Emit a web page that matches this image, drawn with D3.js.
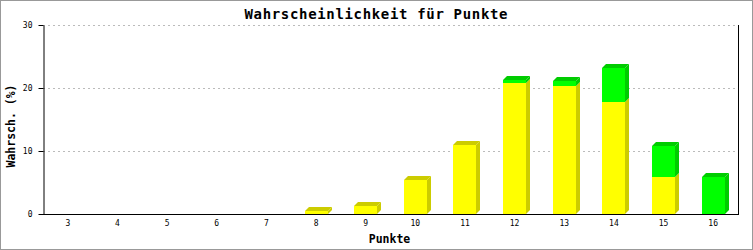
<!DOCTYPE html>
<html>
<head>
<meta charset="utf-8">
<script src="https://cdn.jsdelivr.net/npm/d3@7"></script>
<style>
  body { margin: 0; background: #fff; }
  text { font-family: 'DejaVu Sans Mono', monospace; }
</style>
</head>
<body>
<div id="chart"></div>
<script>
// points 3..16, two stacked series (yellow below, green on top)
const punkte = [3, 4, 5, 6, 7, 8, 9, 10, 11, 12, 13, 14, 15, 16];
const gelb = [0, 0, 0, 0, 0, 0.46, 1.32, 5.45, 10.95, 20.8, 20.3, 17.8, 5.8, 0];
const gruen = [0, 0, 0, 0, 0, 0, 0, 0, 0, 0.4, 0.8, 5.4, 5.0, 5.9];
const yTicks = [0, 10, 20, 30];

const W = 753, H = 250;
const margin = { top: 25, right: 15, bottom: 36, left: 43 };
const DEPTH = 4;
const BAR_W = 23;

const series = [
  { key: 'gelb', values: gelb, front: '#ffff00', dark: '#cccc00' },
  { key: 'gruen', values: gruen, front: '#00ff00', dark: '#00cc00' },
];

const svg = d3.select('#chart').append('svg')
  .attr('width', W)
  .attr('height', H);

svg.append('rect')
  .attr('x', 0.5).attr('y', 0.5)
  .attr('width', W - 1).attr('height', H - 1)
  .attr('fill', '#fff')
  .attr('stroke', '#999')
  .attr('stroke-width', 1);

const x = d3.scaleBand()
  .domain(punkte)
  .range([margin.left, W - margin.right])
  .padding(0);

const y = d3.scaleLinear()
  .domain([0, 30])
  .range([H - margin.bottom, margin.top]);

// grid lines
svg.append('g')
  .selectAll('line')
  .data(yTicks.filter(d => d > 0))
  .enter()
  .append('line')
  .attr('x1', margin.left)
  .attr('x2', W - margin.right)
  .attr('y1', d => Math.round(y(d)) + 0.5)
  .attr('y2', d => Math.round(y(d)) + 0.5)
  .attr('stroke', '#bbb')
  .attr('stroke-dasharray', '2,3');

// stacked 3D bars
const bars = svg.append('g');
punkte.forEach((p, i) => {
  const x0 = Math.round(x(p) + x.bandwidth() / 2 - BAR_W / 2);
  let base = 0;
  const segs = [];
  series.forEach(s => {
    const v = s.values[i];
    if (v > 0) segs.push({ s, lo: base, hi: base + v });
    base += v;
  });
  segs.forEach((seg, k) => {
    const yt = Math.round(y(seg.hi));
    const yb = Math.round(y(seg.lo));
    // side face
    bars.append('polygon')
      .attr('points', [
        [x0 + BAR_W, yt], [x0 + BAR_W + DEPTH, yt - DEPTH],
        [x0 + BAR_W + DEPTH, yb - DEPTH], [x0 + BAR_W, yb]
      ].join(' '))
      .attr('fill', seg.s.dark);
    // top face for topmost segment
    if (k === segs.length - 1) {
      bars.append('polygon')
        .attr('points', [
          [x0, yt], [x0 + DEPTH, yt - DEPTH],
          [x0 + BAR_W + DEPTH, yt - DEPTH], [x0 + BAR_W, yt]
        ].join(' '))
        .attr('fill', seg.s.dark);
    }
    bars.append('rect')
      .attr('x', x0)
      .attr('y', yt)
      .attr('width', BAR_W)
      .attr('height', yb - yt)
      .attr('fill', seg.s.front);
  });
});

// axes
const yAxis = svg.append('g')
  .attr('transform', `translate(${margin.left + 0.5},0)`)
  .call(d3.axisLeft(y).tickValues(yTicks).tickSize(5).tickSizeOuter(0).tickPadding(6));

const xAxis = svg.append('g')
  .attr('transform', `translate(0,${H - margin.bottom + 0.5})`)
  .call(d3.axisBottom(x).tickSize(0).tickSizeOuter(0).tickPadding(6));

[yAxis, xAxis].forEach(a => {
  a.selectAll('path, line').attr('stroke', '#000').attr('stroke-width', 1);
  a.selectAll('text')
    .attr('fill', '#000')
    .style('font-family', "'DejaVu Sans Mono', monospace")
    .style('font-size', '8px');
});
xAxis.select('.domain').attr('d', `M${margin.left},0H${W - margin.right}`);

// right frame line of plot
svg.append('line')
  .attr('x1', W - margin.right + 0.5)
  .attr('x2', W - margin.right + 0.5)
  .attr('y1', margin.top)
  .attr('y2', H - margin.bottom + 1)
  .attr('stroke', '#000');

// title and axis titles
svg.append('text')
  .attr('x', 376)
  .attr('y', 19)
  .attr('text-anchor', 'middle')
  .attr('font-weight', 'bold')
  .attr('font-size', '14px')
  .attr('textLength', 263)
  .text('Wahrscheinlichkeit für Punkte');

svg.append('text')
  .attr('x', (margin.left + W - margin.right) / 2 - 1)
  .attr('y', 243)
  .attr('text-anchor', 'middle')
  .attr('font-weight', 'bold')
  .attr('font-size', '11.5px')
  .text('Punkte');

svg.append('text')
  .attr('transform', 'translate(15,126) rotate(-90)')
  .attr('text-anchor', 'middle')
  .attr('font-weight', 'bold')
  .attr('font-size', '11.5px')
  .text('Wahrsch. (%)');
</script>
</body>
</html>
